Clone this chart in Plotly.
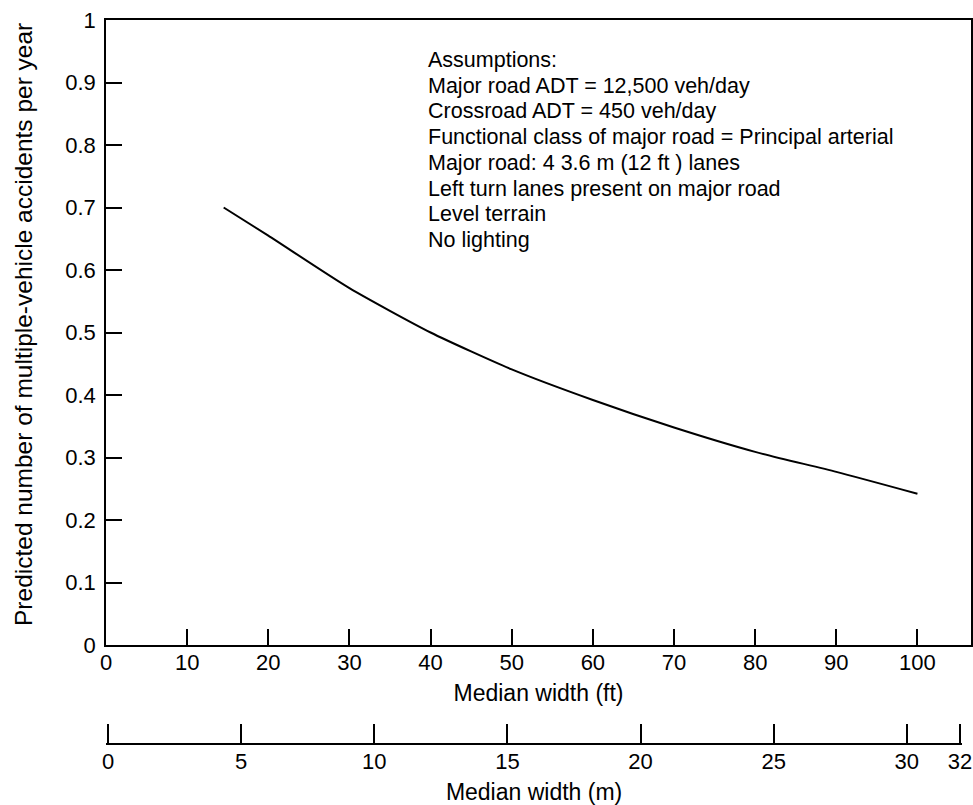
import plotly.graph_objects as go

# Data
median_width_ft = [14.5, 20, 30, 40, 50, 60, 70, 80, 90, 100]
predicted_accidents = [0.700, 0.655, 0.571, 0.500, 0.441, 0.392, 0.348, 0.309, 0.277, 0.242]

ft_ticks = [0, 10, 20, 30, 40, 50, 60, 70, 80, 90, 100]
m_ticks = [0, 5, 10, 15, 20, 25, 30, 32]
y_ticks = [0, 0.1, 0.2, 0.3, 0.4, 0.5, 0.6, 0.7, 0.8, 0.9, 1]
y_tick_text = ["0", "0.1", "0.2", "0.3", "0.4", "0.5", "0.6", "0.7", "0.8", "0.9", "1"]

assumptions = [
    "Assumptions:",
    "Major road ADT = 12,500 veh/day",
    "Crossroad ADT = 450 veh/day",
    "Functional class of major road = Principal arterial",
    "Major road: 4 3.6 m (12 ft ) lanes",
    "Left turn lanes present on major road",
    "Level terrain",
    "No lighting",
]
y_title = "Predicted number of multiple-vehicle accidents per year"

FT_PER_M = 3.28084
FT_MAX = 106.6
M_MAX = 32
EPS = 0.08  # small padding so the end ticks (0 and 32 m) are drawn

FONT = "Liberation Sans, Arial, Helvetica, sans-serif"
TICK_FS = 22
TITLE_FS = 23

L, R, T, B = 106, 2, 20, 61
W, H = 973, 805
PW, PH = W - L - R, H - T - B

fig = go.Figure()
fig.add_trace(go.Scatter(
    x=median_width_ft, y=predicted_accidents, mode="lines",
    line=dict(color="black", width=2, shape="spline", smoothing=0.6),
    hoverinfo="skip", showlegend=False,
))
# Same curve expressed in metres on the secondary (metric) axis, invisible
fig.add_trace(go.Scatter(
    x=[v / FT_PER_M for v in median_width_ft], y=predicted_accidents,
    xaxis="x2", yaxis="y", mode="lines", opacity=0,
    hoverinfo="skip", showlegend=False,
))

line_spacing = 25.7
annotations = []
for i, txt in enumerate(assumptions):
    annotations.append(dict(
        text=txt, xref="paper", yref="paper",
        x=(427 - L) / PW, y=(H - B - (60 + line_spacing * i)) / PH,
        xanchor="left", yanchor="middle", align="left", showarrow=False,
        font=dict(size=21.5), borderpad=0,
    ))
annotations.append(dict(
    text=y_title, xref="paper", yref="paper",
    x=(23 - L) / PW, y=(H - B - 325) / PH, textangle=-90,
    xanchor="center", yanchor="middle", showarrow=False,
    font=dict(size=24.5), borderpad=0,
))

fig.update_layout(
    width=W, height=H,
    margin=dict(l=L, r=R, t=T, b=B, autoexpand=False),
    paper_bgcolor="white", plot_bgcolor="rgba(0,0,0,0)",
    font=dict(family=FONT, size=TICK_FS, color="black"),
    xaxis=dict(
        range=[0, FT_MAX], domain=[0, 1], anchor="y", automargin=False,
        tickvals=ft_ticks, ticks="inside", ticklen=16, tickwidth=1.5, tickcolor="black",
        tickfont=dict(size=TICK_FS), ticklabelstandoff=-3,
        showline=True, linecolor="black", linewidth=1.5, mirror=True,
        showgrid=False, zeroline=False,
        title=dict(text="Median width (ft)", font=dict(size=TITLE_FS), standoff=11),
    ),
    xaxis2=dict(
        range=[-EPS, M_MAX + EPS],
        domain=[0, (M_MAX + 2 * EPS) * FT_PER_M / FT_MAX],
        anchor="free", position=0, automargin=False,
        tickvals=m_ticks, ticks="inside", ticklen=19, tickwidth=1.5, tickcolor="black",
        tickfont=dict(size=TICK_FS), ticklabelstandoff=-2,
        showline=True, linecolor="black", linewidth=1.5,
        showgrid=False, zeroline=False,
        title=dict(text="Median width (m)", font=dict(size=TITLE_FS), standoff=11),
    ),
    yaxis=dict(
        range=[0, 1], domain=[99 / PH, 1], automargin=False,
        tickvals=y_ticks, ticktext=y_tick_text,
        ticks="inside", ticklen=16, tickwidth=1.5, tickcolor="black",
        tickfont=dict(size=TICK_FS), ticklabelstandoff=4,
        showline=True, linecolor="black", linewidth=1.5, mirror=True,
        showgrid=False, zeroline=False,
    ),
    annotations=annotations,
)

fig.write_html("out.html", config={"displayModeBar": False},
               post_script="document.body.style.margin='0px';")
